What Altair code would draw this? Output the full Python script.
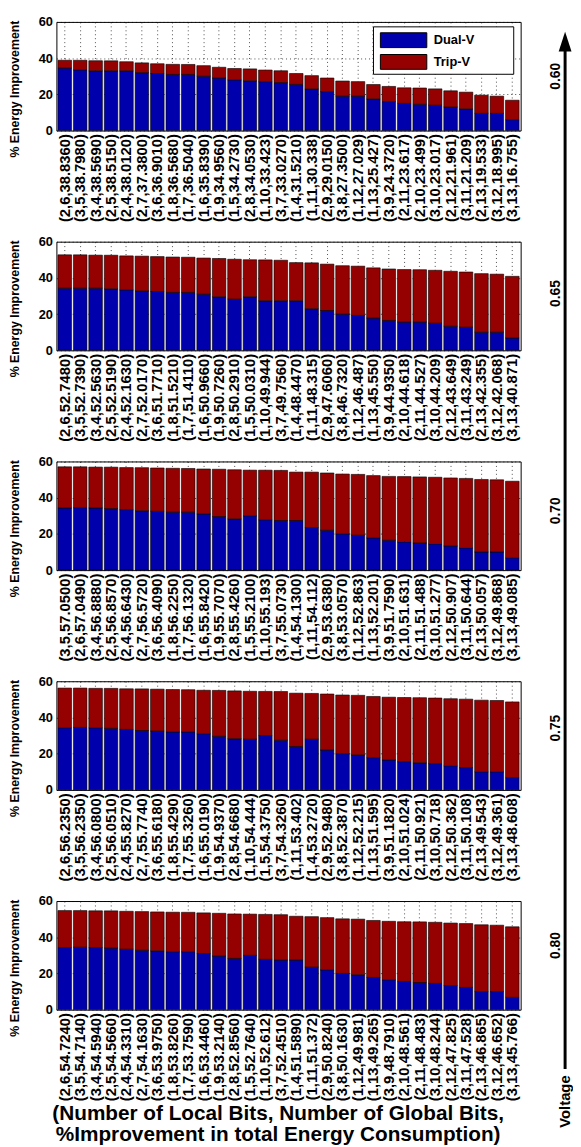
import altair as alt
import pandas as pd

voltages = ["0.60", "0.65", "0.70", "0.75", "0.80"]

labels_060 = ["(2,6,38.8360)", "(3,5,38.7980)", "(3,4,38.5690)", "(2,5,38.5150)", "(2,4,38.0120)",
              "(2,7,37.3800)", "(3,6,36.9010)", "(1,8,36.5680)", "(1,7,36.5040)", "(1,6,35.8390)",
              "(1,9,34.9560)", "(1,5,34.2730)", "(2,8,34.0530)", "(1,10,33.423)", "(3,7,33.0270)",
              "(1,4,31.5210)", "(1,11,30.338)", "(2,9,29.0150)", "(3,8,27.3500)", "(1,12,27.029)",
              "(1,13,25.427)", "(3,9,24.3720)", "(2,11,23.617)", "(2,10,23.499)", "(3,10,23.017)",
              "(2,12,21.961)", "(3,11,21.209)", "(2,13,19.533)", "(3,12,18.995)", "(3,13,16.755)"]
dual_060 = [34.5, 33.5, 33.0, 33.0, 33.0, 32.0, 31.5, 31.0, 31.0, 30.0,
            29.0, 28.0, 27.5, 27.0, 26.5, 25.5, 23.0, 21.5, 19.0, 19.0,
            17.5, 16.0, 15.0, 14.5, 14.0, 13.0, 12.0, 9.5, 9.5, 6.0]

labels_065 = ["(2,6,52.7480)", "(3,5,52.7390)", "(3,4,52.5630)", "(2,5,52.5190)", "(2,4,52.1630)",
              "(2,7,52.0170)", "(3,6,51.7710)", "(1,8,51.5210)", "(1,7,51.4110)", "(1,6,50.9660)",
              "(1,9,50.7260)", "(2,8,50.2910)", "(1,5,50.0310)", "(1,10,49.944)", "(3,7,49.7560)",
              "(1,4,48.4470)", "(1,11,48.315)", "(2,9,47.6060)", "(3,8,46.7320)", "(1,12,46.487)",
              "(1,13,45.550)", "(3,9,44.9350)", "(2,10,44.618)", "(2,11,44.527)", "(3,10,44.209)",
              "(2,12,43.649)", "(3,11,43.249)", "(2,13,42.355)", "(3,12,42.068)", "(3,13,40.871)"]
dual_065 = [34.3, 34.3, 34.3, 34.0, 33.4, 32.8, 32.5, 32.0, 32.0, 31.0,
            29.6, 28.3, 29.6, 27.4, 27.4, 27.4, 23.0, 22.0, 20.0, 19.3,
            17.8, 16.5, 15.6, 15.6, 15.0, 13.3, 12.8, 10.0, 10.0, 6.8]

labels_070 = ["(3,5,57.0500)", "(2,6,57.0490)", "(3,4,56.8880)", "(2,5,56.8570)", "(2,4,56.6430)",
              "(2,7,56.5720)", "(3,6,56.4090)", "(1,8,56.2250)", "(1,7,56.1320)", "(1,6,55.8420)",
              "(1,9,55.7070)", "(2,8,55.4260)", "(1,5,55.2100)", "(1,10,55.193)", "(3,7,55.0730)",
              "(1,4,54.1300)", "(1,11,54.112)", "(2,9,53.6380)", "(3,8,53.0570)", "(1,12,52.863)",
              "(1,13,52.201)", "(3,9,51.7590)", "(2,10,51.631)", "(2,11,51.488)", "(3,10,51.277)",
              "(2,12,50.907)", "(3,11,50.644)", "(2,13,50.057)", "(3,12,49.868)", "(3,13,49.085)"]
dual_070 = [34.3, 34.5, 34.3, 34.0, 33.4, 32.8, 32.5, 32.0, 32.0, 31.0,
            29.6, 28.3, 30.0, 27.8, 27.4, 27.4, 23.5, 22.0, 20.0, 19.3,
            17.8, 16.5, 15.6, 15.0, 14.5, 13.3, 12.3, 10.0, 10.0, 6.8]

labels_075 = ["(2,6,56.2350)", "(3,5,56.2350)", "(3,4,56.0800)", "(2,5,56.0510)", "(2,4,55.8270)",
              "(2,7,55.7740)", "(3,6,55.6180)", "(1,8,55.4290)", "(1,7,55.3260)", "(1,6,55.0190)",
              "(1,9,54.9370)", "(2,8,54.6680)", "(1,10,54.444)", "(1,5,54.3750)", "(3,7,54.3260)",
              "(1,11,53.402)", "(1,4,53.2720)", "(2,9,52.9480)", "(3,8,52.3870)", "(1,12,52.215)",
              "(1,13,51.595)", "(3,9,51.1820)", "(2,10,51.024)", "(2,11,50.921)", "(3,10,50.718)",
              "(2,12,50.362)", "(3,11,50.108)", "(2,13,49.543)", "(3,12,49.361)", "(3,13,48.608)"]
dual_075 = [34.3, 34.5, 34.3, 34.0, 33.4, 32.8, 32.5, 32.0, 32.0, 31.0,
            29.6, 28.3, 28.0, 30.0, 27.4, 24.0, 28.0, 22.0, 20.0, 19.3,
            17.8, 16.5, 15.6, 15.0, 14.5, 13.3, 12.3, 10.0, 10.0, 6.8]

labels_080 = ["(2,6,54.7240)", "(3,5,54.7140)", "(3,4,54.5940)", "(2,5,54.5660)", "(2,4,54.3310)",
              "(2,7,54.1630)", "(3,6,53.9750)", "(1,8,53.8260)", "(1,7,53.7590)", "(1,6,53.4460)",
              "(1,9,53.2140)", "(2,8,52.8560)", "(1,5,52.7640)", "(1,10,52.612)", "(3,7,52.4510)",
              "(1,4,51.5890)", "(1,11,51.372)", "(2,9,50.8240)", "(3,8,50.1630)", "(1,12,49.981)",
              "(1,13,49.265)", "(3,9,48.7910)", "(2,10,48.561)", "(2,11,48.483)", "(3,10,48.244)",
              "(2,12,47.825)", "(3,11,47.528)", "(2,13,46.865)", "(3,12,46.652)", "(3,13,45.766)"]
dual_080 = [34.3, 34.5, 34.3, 34.0, 33.4, 32.8, 32.5, 32.0, 32.0, 31.0,
            29.6, 28.3, 30.0, 27.8, 27.4, 27.4, 23.5, 22.0, 20.0, 19.3,
            17.8, 16.5, 15.6, 15.0, 14.5, 13.3, 12.3, 10.0, 10.0, 6.8]

series_names = ["Dual-V", "Trip-V"]
series_colors = ["#0000AC", "#950000"]

all_labels = [labels_060, labels_065, labels_070, labels_075, labels_080]
all_dual = [dual_060, dual_065, dual_070, dual_075, dual_080]

y_title = "% Energy Improvement"
x_title = ["(Number of Local Bits, Number of Global Bits,",
           "%Improvement in total Energy Consumption)"]

FONT = "Liberation Sans"
one = alt.Data(values=[{"a": 1}])


def make_legend():
    box = alt.Chart(one).mark_rect(fill="white", stroke="black", strokeWidth=1).encode(
        x=alt.value(321), x2=alt.value(463), y=alt.value(5), y2=alt.value(53))
    parts = [box]
    for k, (name, col) in enumerate(zip(series_names, series_colors)):
        y0 = 11 + 22 * k
        parts.append(alt.Chart(one).mark_rect(fill=col, stroke="black", strokeWidth=1).encode(
            x=alt.value(328), x2=alt.value(375), y=alt.value(y0), y2=alt.value(y0 + 15)))
        parts.append(alt.Chart(one).mark_text(text=name, font=FONT, fontSize=13,
                                              fontWeight="bold", color="black", align="left",
                                              baseline="middle").encode(
            x=alt.value(382), y=alt.value(y0 + 7.5)))
    return parts


def make_panel(i):
    labels = all_labels[i]
    duals = all_dual[i]
    rows = []
    for lab, d in zip(labels, duals):
        total = float(lab.strip("()").split(",")[2])
        rows.append({"label": lab, "series": "Dual-V", "value": d, "ord": 0})
        rows.append({"label": lab, "series": "Trip-V", "value": total - d, "ord": 1})
    df = pd.DataFrame(rows)
    last = i == len(all_labels) - 1
    xaxis_kw = dict(labelAngle=-90, labelFont=FONT, labelFontSize=15, labelFontWeight="bold",
                    labelColor="black", labelPadding=3, ticks=False, domain=False,
                    grid=True, gridDash=[1, 3], gridColor="black", gridOpacity=0.7,
                    labelOverlap=False, labelLimit=200)
    if last:
        xaxis_kw.update(title=x_title, titleFont=FONT, titleFontSize=21, titleFontWeight="bold",
                        titleColor="black", titlePadding=2, titleLineHeight=21, titleX=224)
    else:
        xaxis_kw.update(title=None)
    cscale = alt.Scale(domain=series_names, range=series_colors)
    bars = alt.Chart(df).mark_bar(stroke="black", strokeWidth=0.6).encode(
        x=alt.X("label:N", sort=labels,
                scale=alt.Scale(paddingInner=0.12, paddingOuter=0.1),
                axis=alt.Axis(**xaxis_kw)),
        y=alt.Y("value:Q", stack="zero", scale=alt.Scale(domain=[0, 60]),
                axis=alt.Axis(values=[0, 20, 40, 60], title=None,
                              labelFont=FONT, labelFontSize=13, labelFontWeight="bold",
                              labelColor="black", labelPadding=4, ticks=False, domain=False,
                              grid=True, gridDash=[1, 3], gridColor="black", gridOpacity=0.7)),
        color=alt.Color("series:N", scale=cscale, legend=None),
        order=alt.Order("ord:Q"),
    )
    ytitle = alt.Chart(one).mark_text(text=y_title, angle=270, font=FONT, fontSize=12.5,
                                      fontWeight="bold", color="black", align="center",
                                      baseline="middle").encode(
        x=alt.value(-42), y=alt.value(68))
    layers = [bars, ytitle] + (make_legend() if i == 0 else [])
    return alt.layer(*layers).properties(
        width=470, height=110, view=alt.ViewBackground(stroke="black", strokeWidth=1))


panels = [make_panel(i) for i in range(len(all_labels))]
left = alt.vconcat(*panels, spacing=12.5).resolve_scale(x="independent", y="independent",
                                                          color="independent")

volt_layers = []
volt_y = [55, 275, 495, 715, 935]
for v, yy in zip(voltages, volt_y):
    volt_layers.append(
        alt.Chart(one).mark_text(text=v, angle=270, font=FONT, fontSize=14, fontWeight="bold",
                                 color="black", align="center", baseline="middle")
        .encode(x=alt.value(35), y=alt.value(yy)))
arrow_line = alt.Chart(one).mark_rule(color="black", strokeWidth=3).encode(
    x=alt.value(44), y=alt.value(24), y2=alt.value(1060))
arrow_head = alt.Chart(one).mark_point(shape="M0,-1L0.65,1L-0.65,1Z", size=400, filled=True,
                                        color="black", opacity=1).encode(
    x=alt.value(44), y=alt.value(20))
volt_title = alt.Chart(one).mark_text(text="Voltage", angle=270, font=FONT, fontSize=15,
                                      fontWeight="bold", color="black", align="center",
                                      baseline="middle").encode(
    x=alt.value(44), y=alt.value(1093))
right = alt.layer(*volt_layers, arrow_line, arrow_head, volt_title).properties(
    width=50, height=1110, view=alt.ViewBackground(strokeWidth=0))

chart = alt.hconcat(left, right, spacing=0).properties(padding=0).configure(font=FONT)

chart.save("out.html", embed_options={"renderer": "svg", "actions": False})
